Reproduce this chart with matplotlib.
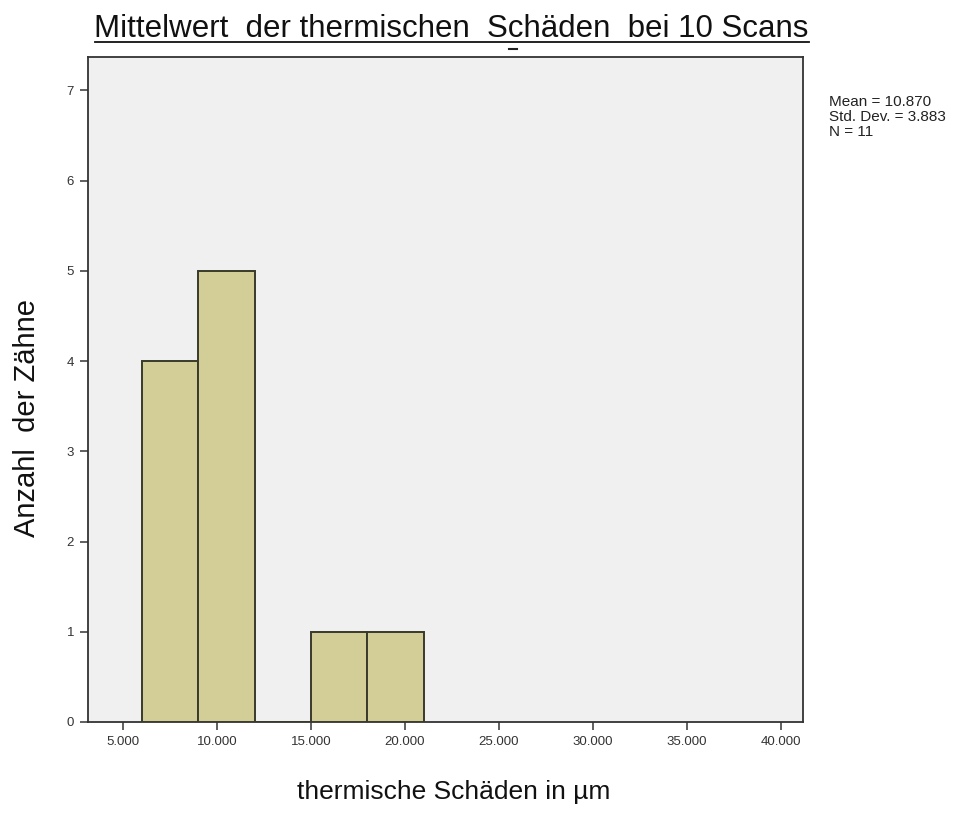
import numpy as np
import matplotlib.pyplot as plt

plt.rcParams["font.family"] = ["Liberation Sans", "DejaVu Sans"]

# histogram bins (µm) and counts per bin
bin_edges = [6000, 9000, 12000, 15000, 18000, 21000]
counts = [4, 5, 0, 1, 1]
x_ticks = [5000, 10000, 15000, 20000, 25000, 30000, 35000, 40000]
x_tick_labels = ["5.000", "10.000", "15.000", "20.000", "25.000", "30.000", "35.000", "40.000"]
y_ticks = [0, 1, 2, 3, 4, 5, 6, 7]
stats_text = ["Mean = 10.870", "Std. Dev. = 3.883", "N = 11"]

title = "Mittelwert  der thermischen  Schäden  bei 10 Scans"
x_label = "thermische Schäden in µm"
y_label = "Anzahl  der Zähne"

fig = plt.figure(figsize=(9.79, 8.19), dpi=100)
ax = fig.add_axes([0.0899, 0.1185, 0.7303, 0.8119])
ax.set_facecolor("#F0F0F0")

lefts = np.array(bin_edges[:-1])
widths = np.diff(bin_edges)
ax.bar(lefts, counts, width=widths, align="edge", color="#D3CE97",
       edgecolor="#3a3a2a", linewidth=1.4, zorder=3)

ax.set_xlim(3140, 41170)
ax.set_ylim(0, 7.37)
ax.set_xticks(x_ticks)
ax.set_xticklabels(x_tick_labels)
ax.set_yticks(y_ticks)
ax.tick_params(axis="both", direction="out", length=6, width=1.2, color="#444444",
               labelsize=9.5, labelcolor="#333333", pad=4)

for s in ax.spines.values():
    s.set_color("#333333")
    s.set_linewidth(1.3)

ax.set_xlabel(x_label, fontsize=19, va="top", color="#111111")
ax.xaxis.set_label_coords(0.511, -0.088)
ax.set_ylabel(y_label, fontsize=21, va="center", color="#111111")
ax.yaxis.set_label_coords(-0.0853, 0.457)

fig.text(0.4605, 0.9548, title, ha="center", va="baseline", fontsize=22.5, color="#111111")
# underline of the title
fig.add_artist(plt.Line2D([0.097, 0.826], [0.9487, 0.9487], color="#111111", linewidth=1.3))
fig.add_artist(plt.Line2D([0.520, 0.528], [0.940, 0.940], color="#222222", linewidth=1.5))

fig.text(0.847, 0.8845, "\n".join(stats_text), ha="left", va="top", fontsize=11,
         color="#222222", linespacing=1.1)

fig.savefig("out.png", dpi=100, facecolor="white")
